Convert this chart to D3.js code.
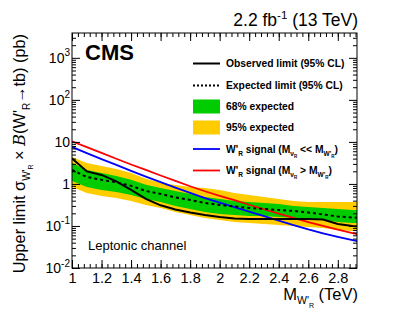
<!DOCTYPE html>
<html>
<head>
<meta charset="utf-8">
<script src="https://cdn.jsdelivr.net/npm/d3@7"></script>
<style>
  body { margin: 0; background: #fff; }
  svg { display: block; }
  text { font-family: "Liberation Sans", Arial, Helvetica, sans-serif; fill: #000; }
</style>
</head>
<body>
<svg id="chart" width="399" height="328"></svg>
<script>
// W' mass points (TeV)
const masses = [1.0, 1.1, 1.2, 1.3, 1.4, 1.5, 1.6, 1.7, 1.8, 1.9, 2.0,
                2.1, 2.2, 2.3, 2.4, 2.5, 2.6, 2.7, 2.8, 2.9, 3.0];

// limits (pb)
const observed = [4.05, 1.99, 1.64, 1.15, 0.72, 0.44, 0.31, 0.247, 0.21, 0.183, 0.164,
                  0.151, 0.147, 0.147, 0.147, 0.147, 0.147, 0.143, 0.112, 0.10, 0.095];
const expected = [2.15, 1.47, 1.25, 1.09, 0.90, 0.68, 0.58, 0.477, 0.416, 0.353, 0.316,
                  0.291, 0.268, 0.254, 0.240, 0.228, 0.210, 0.188, 0.168, 0.159, 0.155];
const exp68Up = [3.16, 2.15, 1.83, 1.55, 1.25, 0.95, 0.80, 0.68, 0.578, 0.49, 0.439,
                 0.394, 0.373, 0.353, 0.334, 0.299, 0.283, 0.268, 0.254, 0.240, 0.235];
const exp68Down = [1.18, 0.85, 0.72, 0.645, 0.547, 0.439, 0.373, 0.299, 0.254, 0.215, 0.193,
                   0.183, 0.173, 0.173, 0.164, 0.155, 0.147, 0.139, 0.125, 0.118, 0.115];
const exp95Up = [4.39, 3.16, 2.68, 2.28, 1.83, 1.32, 1.06, 0.947, 0.848, 0.803, 0.72,
                 0.611, 0.547, 0.49, 0.439, 0.394, 0.373, 0.373, 0.373, 0.373, 0.373];
const exp95Down = [0.848, 0.611, 0.518, 0.464, 0.394, 0.316, 0.268, 0.215, 0.183, 0.155, 0.139,
                   0.125, 0.118, 0.112, 0.106, 0.100, 0.095, 0.090, 0.080, 0.076, 0.074];

// signal cross sections (pb)
const signalLightNu = [7.6, 5.4, 3.9, 2.85, 2.05, 1.5, 1.11, 0.82, 0.61, 0.46, 0.36,
                       0.28, 0.22, 0.172, 0.134, 0.105, 0.083, 0.067, 0.055, 0.046, 0.039];
const signalHeavyNu = [10.3, 7.48, 5.47, 3.98, 2.90, 2.15, 1.59, 1.18, 0.88, 0.67, 0.52,
                       0.41, 0.32, 0.25, 0.196, 0.155, 0.124, 0.100, 0.082, 0.068, 0.056];

// axis ticks
const xTicks = [1, 1.2, 1.4, 1.6, 1.8, 2, 2.2, 2.4, 2.6, 2.8];
const xTickLabels = ["1", "1.2", "1.4", "1.6", "1.8", "2", "2.2", "2.4", "2.6", "2.8"];
const yTicks = [0.01, 0.1, 1, 10, 100, 1000];
const yTickBases = ["10", "10", "1", "10", "10", "10"];
const yTickExps = ["-2", "-1", "", "", "2", "3"];

const green = "#00cc00";
const yellow = "#ffcc00";

const svg = d3.select("#chart");
const frameLeft = 72, frameRight = 357, frameTop = 33, frameBottom = 268;

const x = d3.scaleLinear().domain([1, 2.93]).range([frameLeft, frameRight]);
const y = d3.scaleLog().domain([0.01, 3900]).range([frameBottom, frameTop]);

svg.append("clipPath").attr("id", "frame-clip")
  .append("rect")
    .attr("x", frameLeft).attr("y", frameTop)
    .attr("width", frameRight - frameLeft).attr("height", frameBottom - frameTop);

const plot = svg.append("g").attr("clip-path", "url(#frame-clip)");

const idx = d3.range(masses.length);

const band = (hi, lo) => d3.area()
  .x(i => x(masses[i]))
  .y0(i => y(lo[i]))
  .y1(i => y(hi[i]));

const line = vals => d3.line()
  .x(i => x(masses[i]))
  .y(i => y(vals[i]));

plot.append("path").attr("d", band(exp95Up, exp95Down)(idx)).attr("fill", yellow);
plot.append("path").attr("d", band(exp68Up, exp68Down)(idx)).attr("fill", green);

plot.append("path").attr("d", line(signalLightNu)(idx))
  .attr("fill", "none").attr("stroke", "#0000ff").attr("stroke-width", 1.8);
plot.append("path").attr("d", line(signalHeavyNu)(idx))
  .attr("fill", "none").attr("stroke", "#ff0000").attr("stroke-width", 1.8);
plot.append("path").attr("d", line(expected)(idx))
  .attr("fill", "none").attr("stroke", "#000").attr("stroke-width", 2)
  .attr("stroke-dasharray", "3,3");
plot.append("path").attr("d", line(observed)(idx))
  .attr("fill", "none").attr("stroke", "#000").attr("stroke-width", 2);

// axes (ticks inside the frame, ROOT style)
const xMinor = d3.range(0, 49).map(k => 1 + k * 0.04);
const yMinor = [];
[0.01, 0.1, 1, 10, 100, 1000].forEach(d => {
  for (let k = 2; k <= 9; k++) if (d * k < 3900) yMinor.push(d * k);
});

const axisG = svg.append("g");
const clean = g => g.call(s => s.select(".domain").remove())
  .call(s => s.selectAll("line").attr("stroke", "#000"));

axisG.append("g").attr("transform", `translate(0,${frameBottom})`)
  .call(d3.axisBottom(x).tickValues(xMinor).tickSize(-4).tickFormat("")).call(clean);
axisG.append("g").attr("transform", `translate(0,${frameBottom})`)
  .call(d3.axisBottom(x).tickValues(xTicks).tickSize(-8).tickPadding(5)
    .tickFormat((d, i) => xTickLabels[i]))
  .call(clean)
  .call(g => g.selectAll("text").attr("font-size", 14.5)
    .style("font-family", '"Liberation Sans", Arial, sans-serif'));
axisG.append("g").attr("transform", `translate(0,${frameTop})`)
  .call(d3.axisTop(x).tickValues(xMinor).tickSize(-4).tickFormat("")).call(clean);
axisG.append("g").attr("transform", `translate(0,${frameTop})`)
  .call(d3.axisTop(x).tickValues(xTicks).tickSize(-8).tickFormat("")).call(clean);

axisG.append("g").attr("transform", `translate(${frameLeft},0)`)
  .call(d3.axisLeft(y).tickValues(yMinor).tickSize(-4).tickFormat("")).call(clean);
axisG.append("g").attr("transform", `translate(${frameLeft},0)`)
  .call(d3.axisLeft(y).tickValues(yTicks).tickSize(-8).tickFormat("")).call(clean);
axisG.append("g").attr("transform", `translate(${frameRight},0)`)
  .call(d3.axisRight(y).tickValues(yMinor).tickSize(-4).tickFormat("")).call(clean);
axisG.append("g").attr("transform", `translate(${frameRight},0)`)
  .call(d3.axisRight(y).tickValues(yTicks).tickSize(-8).tickFormat("")).call(clean);

// y tick labels with superscripts
yTicks.forEach((v, i) => {
  const t = svg.append("text")
    .attr("x", 70).attr("y", y(v) + 5)
    .attr("text-anchor", "end").attr("font-size", 14);
  t.append("tspan").text(yTickBases[i]);
  if (yTickExps[i]) {
    t.append("tspan").attr("dy", -6.5).attr("font-size", 10).text(yTickExps[i]);
  }
});

svg.append("rect")
  .attr("x", frameLeft).attr("y", frameTop)
  .attr("width", frameRight - frameLeft).attr("height", frameBottom - frameTop)
  .attr("fill", "none").attr("stroke", "#000").attr("stroke-width", 1);

// rich text helper: parts = [text, fontSize, shift, style]
const rich = (sel, parts) => {
  let prev = 0;
  parts.forEach(([txt, size, shift, style]) => {
    const ts = sel.append("tspan").attr("font-size", size).attr("dy", shift - prev).text(txt);
    if (style === "script") ts.style("font-family", '"DejaVu Serif", "Liberation Serif", serif').style("font-style", "italic");
    prev = shift;
  });
  return sel;
};

// header
rich(svg.append("text").attr("x", 358).attr("y", 26).attr("text-anchor", "end"), [
  ["2.2 fb", 17.5, 0], ["-1", 11.5, -7], [" (13 TeV)", 17.5, 0]
]);
svg.append("text").attr("x", 85).attr("y", 60)
  .attr("font-size", 22).attr("font-weight", "bold").text("CMS");

svg.append("text").attr("x", 88).attr("y", 250).attr("font-size", 13).text("Leptonic channel");

// axis titles
rich(svg.append("text").attr("x", 358).attr("y", 300).attr("text-anchor", "end"), [
  ["M", 16.5, 0], ["W'", 10.5, 4], ["R", 7, 7.5], [" (TeV)", 16.5, 0]
]);
rich(svg.append("text").attr("transform", "translate(25,34) rotate(-90)").attr("text-anchor", "end"), [
  ["Upper limit σ", 16.3, 0], ["W'", 10, 4.5], ["R", 7, 7.5], [" × ", 16.3, 0],
  ["B", 16.3, 0, "script"], ["(W'", 16.3, 0], ["R", 10, 4.5], ["→tb) (pb)", 16.3, 0]
]);

// legend
const legX = 193, legW = 27, textX = 226;
const leg = svg.append("g").attr("font-weight", "bold");
const rows = [63.5, 85.5, 106.5, 127.5, 149, 170.5];

leg.append("line").attr("x1", legX).attr("x2", legX + legW).attr("y1", rows[0]).attr("y2", rows[0])
  .attr("stroke", "#000").attr("stroke-width", 2);
leg.append("line").attr("x1", legX).attr("x2", legX + legW).attr("y1", rows[1]).attr("y2", rows[1])
  .attr("stroke", "#000").attr("stroke-width", 2).attr("stroke-dasharray", "2,2");
leg.append("rect").attr("x", legX).attr("y", rows[2] - 7).attr("width", legW).attr("height", 14).attr("fill", green);
leg.append("rect").attr("x", legX).attr("y", rows[3] - 7).attr("width", legW).attr("height", 14).attr("fill", yellow);
leg.append("line").attr("x1", legX).attr("x2", legX + legW).attr("y1", rows[4]).attr("y2", rows[4])
  .attr("stroke", "#0000ff").attr("stroke-width", 1.8);
leg.append("line").attr("x1", legX).attr("x2", legX + legW).attr("y1", rows[5]).attr("y2", rows[5])
  .attr("stroke", "#ff0000").attr("stroke-width", 1.8);

const legText = row => leg.append("text").attr("x", textX).attr("y", rows[row] + 3.7);
rich(legText(0), [["Observed limit (95% CL)", 10.3, 0]]);
rich(legText(1), [["Expected limit (95% CL)", 10.3, 0]]);
rich(legText(2), [["68% expected", 10.3, 0]]);
rich(legText(3), [["95% expected", 10.3, 0]]);
rich(legText(4), [
  ["W'", 10.3, 0], ["R", 6.5, 3], [" signal (M", 10.3, 0], ["ν", 6.5, 3], ["R", 4.5, 5],
  [" << M", 10.3, 0], ["W'", 6.5, 3], ["R", 4.5, 5], [")", 10.3, 0]
]);
rich(legText(5), [
  ["W'", 10.3, 0], ["R", 6.5, 3], [" signal (M", 10.3, 0], ["ν", 6.5, 3], ["R", 4.5, 5],
  [" > M", 10.3, 0], ["W'", 6.5, 3], ["R", 4.5, 5], [")", 10.3, 0]
]);
</script>
</body>
</html>
